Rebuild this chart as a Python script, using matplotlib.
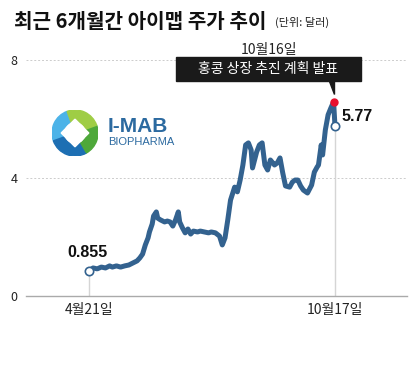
import matplotlib
matplotlib.use("Agg")
import matplotlib.pyplot as plt
from matplotlib.patches import Wedge, Polygon, Rectangle
import numpy as np

plt.rcParams['font.family'] = ['Noto Sans CJK KR', 'DejaVu Sans']

# days since 4/21, closing price (USD)
days = [0, 3, 6, 9, 12, 15, 17, 20, 23, 26, 29, 32, 35, 37, 39, 41, 43, 44, 46, 47,
        49, 50, 52, 55, 57, 59, 61, 63, 65, 66, 68, 70, 72, 74, 76, 79, 81, 84, 87, 89,
        92, 95, 97, 99, 101, 103, 106, 108, 110, 112, 114, 116, 118, 119, 122, 124, 126,
        128, 130, 132, 135, 137, 139, 141, 143, 146, 148, 150, 152, 154, 156, 159, 162,
        164, 166, 167, 169, 170, 172, 174, 176, 178, 179]
prices = [0.855, 0.95, 0.92, 0.98, 0.95, 1.02, 0.98, 1.02, 0.98, 1.02, 1.05, 1.12, 1.19,
          1.29, 1.42, 1.73, 1.97, 2.17, 2.44, 2.71, 2.85, 2.64, 2.58, 2.51, 2.54, 2.51,
          2.37, 2.58, 2.85, 2.51, 2.31, 2.14, 2.27, 2.10, 2.20, 2.17, 2.20, 2.17, 2.14,
          2.17, 2.14, 2.03, 1.73, 1.97, 2.58, 3.25, 3.69, 3.53, 3.93, 4.44, 5.12, 5.19,
          4.95, 4.34, 4.88, 5.12, 5.19, 4.44, 4.27, 4.61, 4.44, 4.51, 4.68, 4.17, 3.73,
          3.69, 3.86, 3.93, 3.93, 3.73, 3.59, 3.49, 3.76, 4.20, 4.37, 4.44, 5.12, 4.78,
          5.63, 6.14, 6.37, 6.58, 5.77]
tick_days = [0, 179]
tick_labels = ['4월21일', '10월17일']
yticks = [0, 4, 8]

line_color = '#33628f'

fig = plt.figure(figsize=(4.2, 3.76), dpi=100)
ax = fig.add_axes([0.062, 0.2128, 0.907, 0.6277])
ax.set_xlim(-45.8, 231.4)
ax.set_ylim(0, 8)

for s in ['top', 'right', 'left']:
    ax.spines[s].set_visible(False)
ax.spines['bottom'].set_color('#aaaaaa')
ax.spines['bottom'].set_linewidth(1)

ax.set_yticks(yticks)
ax.set_yticklabels([str(v) for v in yticks], fontsize=9, color='#222222')
ax.tick_params(axis='y', length=0, pad=6)
ax.set_xticks(tick_days)
ax.set_xticklabels(tick_labels, fontsize=10, color='#222222')
ax.tick_params(axis='x', length=0, pad=5)
for v in [4, 8]:
    ax.axhline(v, color='#cccccc', lw=0.7, ls=(0, (2, 2)), zorder=0)

# vertical guides from first/last points
ax.plot([days[0], days[0]], [0, prices[0]], color='#d5d5d5', lw=1, zorder=1)
ax.plot([days[-1], days[-1]], [0, prices[-1]], color='#d5d5d5', lw=1, zorder=1)

ax.plot(days, prices, color=line_color, lw=3.6, solid_joinstyle='round',
        solid_capstyle='round', zorder=3)
ax.plot(days[0], prices[0], 'o', ms=6, mfc='white', mec=line_color, mew=1.2, zorder=4)
ax.plot(days[-1], prices[-1], 'o', ms=6, mfc='white', mec=line_color, mew=1.2, zorder=4)
ax.plot(days[-2], prices[-2], 'o', ms=5, mfc='#e8102e', mec='#e8102e', zorder=5)

ax.text(days[0] - 1, prices[0] + 0.35, '0.855', fontsize=11.5, fontweight='bold',
        ha='center', va='bottom', family=['Liberation Sans'], color='#111111')
ax.text(days[-1] + 5, prices[-1] + 0.3, '5.77', fontsize=11.5, fontweight='bold',
        ha='left', va='center', family=['Liberation Sans'], color='#111111')

# callout box
ax.text(days[-2] - 47, 8.1, '10월16일', fontsize=10, ha='center', va='bottom',
        color='#222222')
box_x0, box_x1 = 63, 198
ax.add_patch(Rectangle((box_x0, 7.3), box_x1 - box_x0, 0.8, color='#1a1a1a',
                       zorder=6, clip_on=False))
ax.add_patch(Polygon([[days[-2] - 3, 7.3], [days[-2] + 0.5, 7.3],
                      [days[-2] + 0.5, 6.85]], closed=True, color='#1a1a1a',
                     zorder=6, clip_on=False))
ax.text((box_x0 + box_x1) / 2, 7.7, '홍콩 상장 추진 계획 발표', fontsize=10,
        color='white', ha='center', va='center', zorder=7)

# title
fig.text(0.033, 0.942, '최근 6개월간 아이맵 주가 추이', fontsize=14.5,
         fontweight='bold', ha='left', va='center', color='#111111')
fig.text(0.655, 0.94, '(단위: 달러)', fontsize=8, ha='left', va='center',
         color='#222222')

# logo
lax = fig.add_axes([52 / 420, 1 - 158 / 376, 46 / 420, 50 / 376])
lax.set_xlim(-1, 1)
lax.set_ylim(-1, 1)
lax.set_aspect('equal')
lax.axis('off')
lax.add_patch(Wedge((0, 0), 1, 110, 200, width=0.5, color='#4cb3e8'))
lax.add_patch(Wedge((0, 0), 1, 200, 300, width=0.5, color='#1d6fb3'))
lax.add_patch(Wedge((0, 0), 1, 300, 20, width=0.5, color='#4ea83a'))
lax.add_patch(Wedge((0, 0), 1, 20, 110, width=0.5, color='#9fcd45'))
lax.add_patch(Polygon([[0, 0.6], [0.6, 0], [0, -0.6], [-0.6, 0]], color='white'))
fig.text(108 / 420, 1 - 127 / 376, 'I-MAB', fontsize=15, fontweight='bold',
         color='#2c6aa0', ha='left', va='center', family=['Liberation Sans'])
fig.text(108 / 420, 1 - 142 / 376, 'BIOPHARMA', fontsize=8,
         color='#2c6aa0', ha='left', va='center', family=['Liberation Sans'])

fig.savefig('out.png', dpi=100)
